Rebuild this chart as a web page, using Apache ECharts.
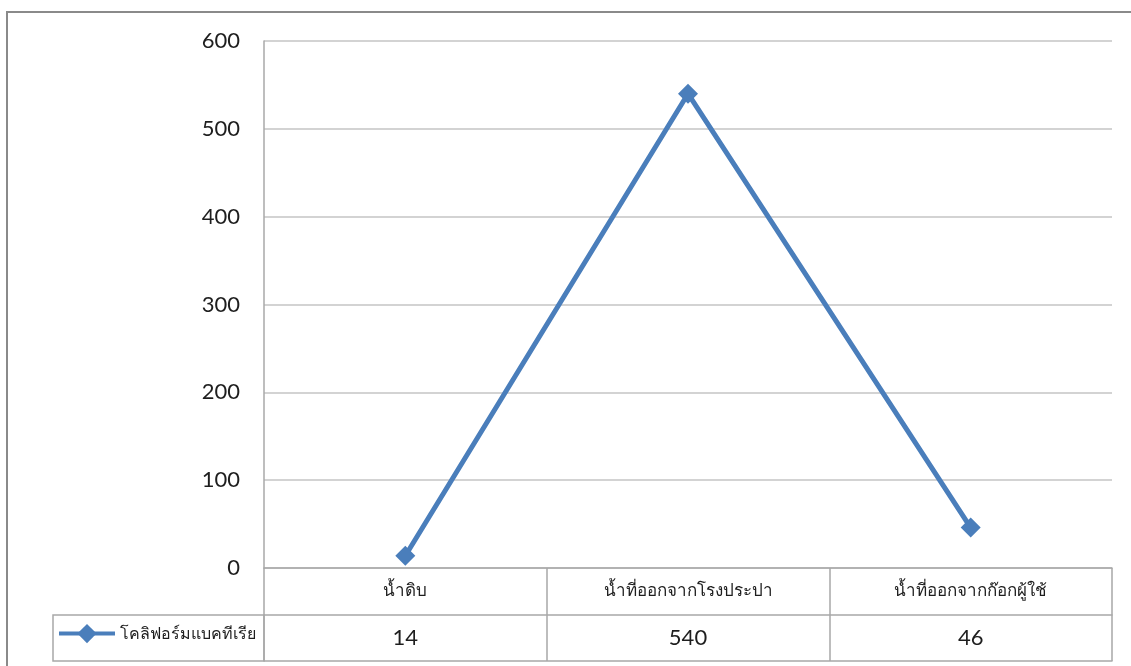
<!DOCTYPE html>
<html>
<head>
<meta charset="utf-8">
<script src="https://cdn.jsdelivr.net/npm/echarts@6/dist/echarts.min.js"></script>
<style>
  html, body { margin: 0; padding: 0; background: #fff; }
  #chart { width: 1131px; height: 666px; }
</style>
</head>
<body>
<div id="chart"></div>
<script>
// Sampling points along the water supply
const categories = ['น้ำดิบ', 'น้ำที่ออกจากโรงประปา', 'น้ำที่ออกจากก๊อกผู้ใช้'];
// Coliform bacteria count at each point
const seriesName = 'โคลิฟอร์มแบคทีเรีย';
const coliform = [14, 540, 46];
// Value axis ticks
const yTicks = [0, 100, 200, 300, 400, 500, 600];

const FONT = "Lato, 'Noto Sans', 'DejaVu Sans', sans-serif";
const TEXT_COLOR = '#1e1e1e';
const GRID_COLOR = '#c4c4c4';
const TABLE_COLOR = '#a8a8a8';
const LINE_COLOR = '#4a7ebb';

const chart = echarts.init(document.getElementById('chart'));

chart.setOption({
  animation: false,
  backgroundColor: '#ffffff',
  grid: { left: 264, right: 19, top: 41, bottom: 98, containLabel: false },
  legend: {
    left: 57,
    top: 624,
    itemWidth: 56,
    itemHeight: 24,
    padding: 0,
    lineStyle: { width: 4, color: LINE_COLOR },
    itemStyle: { color: LINE_COLOR },
    textStyle: { fontFamily: FONT, fontSize: 16, color: TEXT_COLOR },
    data: [seriesName]
  },
  xAxis: [
    {
      type: 'category',
      data: categories,
      boundaryGap: true,
      position: 'bottom',
      axisLine: { show: true, lineStyle: { color: TABLE_COLOR, width: 1.5 } },
      axisTick: { show: true, alignWithLabel: false, length: 93, inside: false,
                  lineStyle: { color: TABLE_COLOR, width: 1.5 } },
      axisLabel: { fontFamily: FONT, fontSize: 17, color: TEXT_COLOR, margin: 23,
                   verticalAlign: 'middle', interval: 0 },
      splitLine: { show: false }
    },
    {
      type: 'category',
      data: coliform.map(String),
      position: 'bottom',
      offset: 47,
      axisLine: { show: true, lineStyle: { color: TABLE_COLOR, width: 1.5 } },
      axisTick: { show: false },
      axisLabel: { fontFamily: FONT, fontSize: 22, color: TEXT_COLOR, margin: 23,
                   verticalAlign: 'middle', interval: 0 },
      splitLine: { show: false }
    },
    {
      type: 'category',
      data: categories,
      position: 'bottom',
      offset: 93,
      axisLine: { show: true, lineStyle: { color: TABLE_COLOR, width: 1.5 } },
      axisTick: { show: false },
      axisLabel: { show: false },
      splitLine: { show: false }
    }
  ],
  yAxis: {
    type: 'value',
    min: yTicks[0],
    max: yTicks[yTicks.length - 1],
    interval: yTicks[1] - yTicks[0],
    axisLine: { show: true, lineStyle: { color: TABLE_COLOR, width: 1.5 } },
    axisTick: { show: false },
    axisLabel: { fontFamily: FONT, fontSize: 22, color: TEXT_COLOR, margin: 24 },
    splitLine: { show: true, lineStyle: { color: GRID_COLOR, width: 1.5 } }
  },
  series: [
    {
      name: seriesName,
      type: 'line',
      xAxisIndex: 0,
      data: coliform,
      symbol: 'diamond',
      symbolSize: 20,
      lineStyle: { color: LINE_COLOR, width: 5 },
      itemStyle: { color: LINE_COLOR },
      z: 5
    }
  ],
  graphic: [
    // outer chart frame (left and top edges)
    {
      type: 'polyline',
      shape: { points: [[7, 666], [7, 12], [1131, 12]] },
      style: { stroke: '#8a8a8a', lineWidth: 2, fill: null },
      silent: true
    },
    // legend key cell of the data table
    {
      type: 'rect',
      shape: { x: 53, y: 615, width: 211, height: 46 },
      style: { stroke: TABLE_COLOR, lineWidth: 1.5, fill: null },
      silent: true
    }
  ]
});
</script>
</body>
</html>
